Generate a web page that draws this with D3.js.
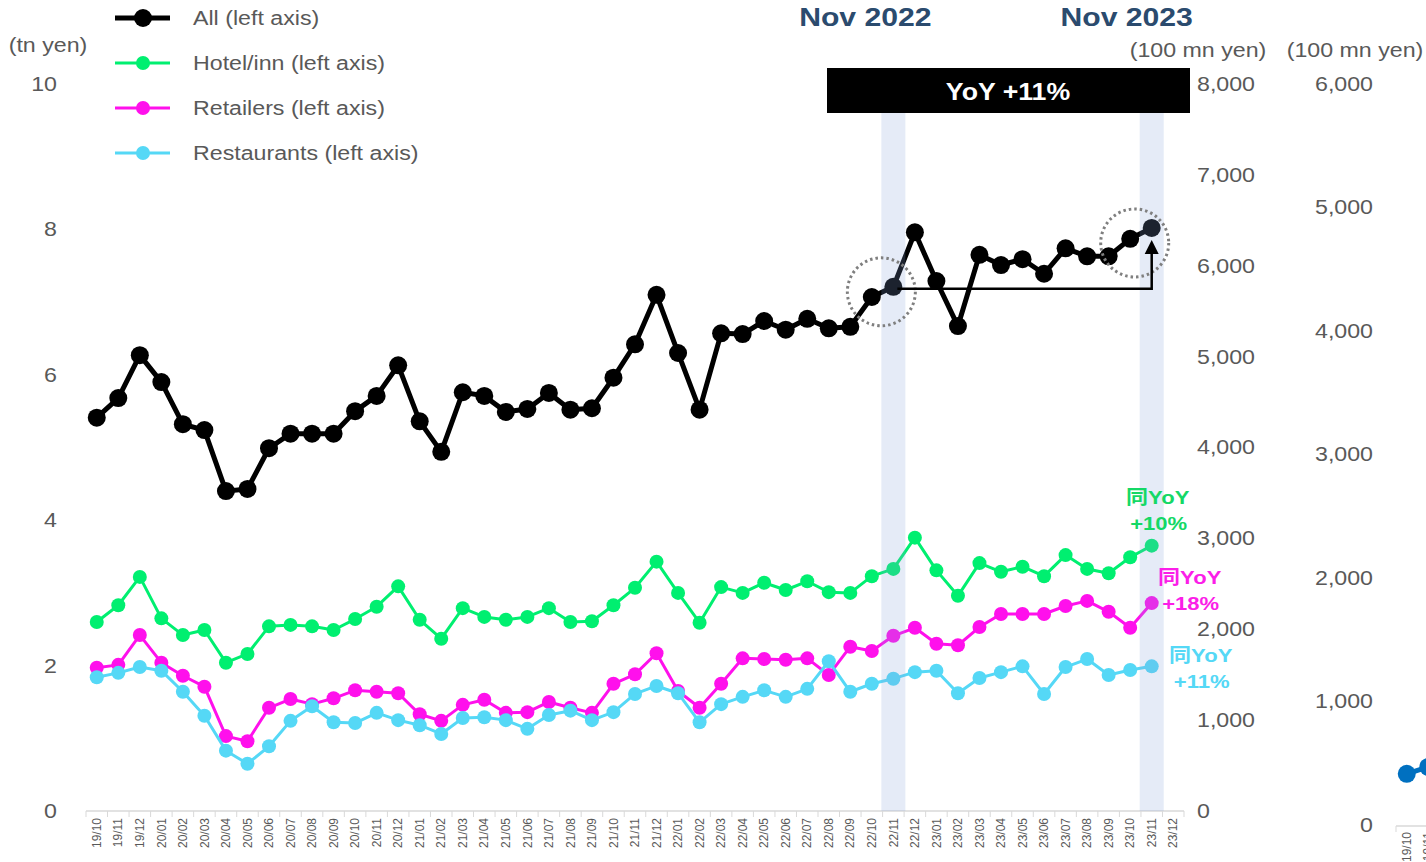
<!DOCTYPE html>
<html>
<head>
<meta charset="utf-8">
<script src="https://cdn.jsdelivr.net/npm/d3@7"></script>
<style>
    body { margin: 0; background: #fff; }
    svg { display: block; font-family: 'Liberation Sans', Arial, 'Noto Sans CJK JP', sans-serif; }
</style>
</head>
<body>
<svg id="chart" width="1426" height="862"></svg>
<script>
const months = [
    '19/10', '19/11', '19/12',
    '20/01', '20/02', '20/03', '20/04', '20/05', '20/06', '20/07', '20/08', '20/09', '20/10', '20/11', '20/12',
    '21/01', '21/02', '21/03', '21/04', '21/05', '21/06', '21/07', '21/08', '21/09', '21/10', '21/11', '21/12',
    '22/01', '22/02', '22/03', '22/04', '22/05', '22/06', '22/07', '22/08', '22/09', '22/10', '22/11', '22/12',
    '23/01', '23/02', '23/03', '23/04', '23/05', '23/06', '23/07', '23/08', '23/09', '23/10', '23/11', '23/12'
];

// tn yen, 19/10 .. 23/11 (23/12 not out yet)
const allValues = [
    5.41, 5.68, 6.27,
    5.90, 5.32, 5.24, 4.40, 4.43, 4.99, 5.19, 5.19, 5.19, 5.50, 5.71, 6.13,
    5.36, 4.94, 5.76, 5.71, 5.49, 5.53, 5.75, 5.52, 5.54, 5.96, 6.42, 7.10,
    6.30, 5.52, 6.57, 6.56, 6.74, 6.62, 6.77, 6.64, 6.66, 7.07, 7.21, 7.96,
    7.29, 6.67, 7.65, 7.51, 7.59, 7.39, 7.74, 7.63, 7.63, 7.87, 8.02
];
const hotelValues = [
    2.60, 2.83, 3.22,
    2.65, 2.42, 2.49, 2.04, 2.16, 2.54, 2.56, 2.54, 2.49, 2.64, 2.81, 3.09,
    2.63, 2.37, 2.79, 2.67, 2.63, 2.67, 2.79, 2.60, 2.61, 2.83, 3.07, 3.43,
    3.00, 2.59, 3.08, 3.00, 3.14, 3.04, 3.16, 3.01, 3.00, 3.23, 3.33, 3.76,
    3.31, 2.96, 3.41, 3.29, 3.36, 3.23, 3.52, 3.33, 3.27, 3.49, 3.65
];
const retailValues = [
    1.97, 2.01, 2.42,
    2.04, 1.86, 1.71, 1.03, 0.96, 1.42, 1.54, 1.47, 1.55, 1.66, 1.64, 1.62,
    1.33, 1.24, 1.46, 1.53, 1.35, 1.36, 1.50, 1.42, 1.35, 1.75, 1.88, 2.17,
    1.65, 1.42, 1.75, 2.10, 2.09, 2.08, 2.10, 1.87, 2.26, 2.20, 2.41, 2.52,
    2.30, 2.28, 2.53, 2.71, 2.71, 2.71, 2.82, 2.89, 2.74, 2.52, 2.86
];
const restaurantValues = [
    1.84, 1.90, 1.98,
    1.93, 1.64, 1.31, 0.83, 0.65, 0.89, 1.24, 1.44, 1.22, 1.21, 1.35, 1.25,
    1.18, 1.06, 1.28, 1.29, 1.25, 1.13, 1.32, 1.38, 1.25, 1.36, 1.61, 1.72,
    1.62, 1.22, 1.47, 1.57, 1.66, 1.57, 1.68, 2.06, 1.64, 1.75, 1.82, 1.91,
    1.93, 1.62, 1.83, 1.91, 1.99, 1.61, 1.98, 2.09, 1.87, 1.94, 1.99
];

const seriesNames = ['All (left axis)', 'Hotel/inn (left axis)', 'Retailers (left axis)', 'Restaurants (left axis)'];
const yoyLabels = [null, '+10%', '+18%', '+11%'];

const leftTicks = [0, 2, 4, 6, 8, 10];
const rightTicks = [0, 1000, 2000, 3000, 4000, 5000, 6000, 7000, 8000];
const farTicks = [0, 1000, 2000, 3000, 4000, 5000, 6000];

// the next chart, cut off at the right edge
const miniMonths = ['19/10', '19/11'];
const miniValues = [414, 470];

const highlightMonths = ['22/11', '23/11'];

/* ===== Config ===== */
const W = 1426, H = 862;
const stretch = 1.16; // text in the picture is a bit wide
const grey = '#595959';

const svg = d3.select('#chart');

const x = d3.scaleBand().domain(months).range([86, 1184]);
const yLeft = d3.scaleLinear().domain([0, 10]).range([811, 84]);
const yRight = d3.scaleLinear().domain([0, 8000]).range([811, 84]);
const yFar = d3.scaleLinear().domain([0, 6000]).range([825, 84]);
const cx = m => x(m) + x.bandwidth() / 2;

const series = [
    { name: seriesNames[0], values: allValues, color: '#000000', width: 5, r: 9, label: null },
    { name: seriesNames[1], values: hotelValues, color: '#00ef70', width: 3, r: 7, label: '#14d866' },
    { name: seriesNames[2], values: retailValues, color: '#ff10ec', width: 3, r: 7, label: '#fb1ee8' },
    { name: seriesNames[3], values: restaurantValues, color: '#55d8f6', width: 3, r: 7, label: '#55d8f6' }
];

function wide(sel) {
    return sel.attr('transform', function() {
        const t = d3.select(this).attr('data-at') || '';
        return `${t} scale(${stretch},1)`;
    });
}

/* ===== Axes ===== */
function styleAxis(g) {
    g.attr('font-family', null).attr('font-size', 20);
    g.select('.domain').remove();
    g.selectAll('text').attr('fill', grey).call(wide);
}

svg.append('g')
    .attr('transform', 'translate(57,0)')
    .call(d3.axisLeft(yLeft).tickValues(leftTicks).tickSize(0).tickPadding(0))
    .call(styleAxis);

svg.append('g')
    .attr('transform', 'translate(1197,0)')
    .call(d3.axisRight(yRight).tickValues(rightTicks).tickSize(0).tickPadding(0).tickFormat(d3.format(',')))
    .call(styleAxis);

svg.append('g')
    .attr('transform', 'translate(1373,0)')
    .call(d3.axisLeft(yFar).tickValues(farTicks).tickSize(0).tickPadding(0).tickFormat(d3.format(',')))
    .call(styleAxis);

svg.append('text').attr('data-at', 'translate(48,52)').attr('text-anchor', 'middle')
    .attr('font-size', 20).attr('fill', grey).text('(tn yen)').call(wide);
svg.append('text').attr('data-at', 'translate(1198,57)').attr('text-anchor', 'middle')
    .attr('font-size', 20).attr('fill', grey).text('(100 mn yen)').call(wide);
svg.append('text').attr('data-at', 'translate(1355,57)').attr('text-anchor', 'middle')
    .attr('font-size', 20).attr('fill', grey).text('(100 mn yen)').call(wide);

// bottom category axis
const x0 = x.range()[0], x1 = x.range()[1];
svg.append('line')
    .attr('x1', x0).attr('x2', x1).attr('y1', 811).attr('y2', 811)
    .attr('stroke', '#d9d9d9').attr('stroke-width', 1.5);
svg.append('g').selectAll('line')
    .data(d3.range(months.length + 1))
    .enter().append('line')
    .attr('x1', i => x0 + i * x.step()).attr('x2', i => x0 + i * x.step())
    .attr('y1', 811).attr('y2', 817)
    .attr('stroke', '#d9d9d9').attr('stroke-width', 1);
svg.append('g').selectAll('text')
    .data(months)
    .enter().append('text')
    .attr('transform', d => `translate(${cx(d)},818) rotate(-90)`)
    .attr('text-anchor', 'end')
    .attr('dy', '0.35em')
    .attr('font-size', 12)
    .attr('fill', grey)
    .text(d => d);

/* ===== Lines ===== */
const line = d3.line()
    .x((d, i) => cx(months[i]))
    .y(d => yLeft(d));

series.forEach(s => {
    const g = svg.append('g');
    g.append('path')
        .datum(s.values)
        .attr('d', line)
        .attr('fill', 'none')
        .attr('stroke', s.color)
        .attr('stroke-width', s.width)
        .attr('stroke-linejoin', 'round');
    g.selectAll('circle')
        .data(s.values)
        .enter().append('circle')
        .attr('cx', (d, i) => cx(months[i]))
        .attr('cy', d => yLeft(d))
        .attr('r', s.r)
        .attr('fill', s.color);
});

// highlight bands lie over the points (that is why they look tinted)
svg.append('g').selectAll('rect')
    .data(highlightMonths)
    .enter().append('rect')
    .attr('x', d => cx(d) - 12)
    .attr('y', 113)
    .attr('width', 24)
    .attr('height', yLeft(0) - 113)
    .attr('fill', 'rgb(133,162,218)')
    .attr('fill-opacity', 0.21);

/* ===== Legend ===== */
const legend = svg.append('g').selectAll('g')
    .data(series)
    .enter().append('g')
    .attr('transform', (d, i) => `translate(0,${18 + i * 45})`);
legend.append('line')
    .attr('x1', 115).attr('x2', 170)
    .attr('stroke', d => d.color)
    .attr('stroke-width', d => d.width);
legend.append('circle')
    .attr('cx', 143)
    .attr('r', d => d.r)
    .attr('fill', d => d.color);
legend.append('text')
    .attr('data-at', 'translate(193,0)')
    .attr('dy', '0.35em')
    .attr('font-size', 20)
    .attr('fill', grey)
    .text(d => d.name)
    .call(wide);

/* ===== Annotations ===== */
const iFrom = months.indexOf(highlightMonths[0]);
const iTo = months.indexOf(highlightMonths[1]);
const xFrom = cx(highlightMonths[0]), xTo = cx(highlightMonths[1]);
const yFrom = yLeft(allValues[iFrom]), yTo = yLeft(allValues[iTo]);

svg.append('text').attr('data-at', `translate(${xFrom - 28},26)`).attr('text-anchor', 'middle')
    .attr('font-size', 26).attr('font-weight', 'bold').attr('fill', '#2b4b6e')
    .text('Nov 2022').call(wide);
svg.append('text').attr('data-at', `translate(${xTo - 25},26)`).attr('text-anchor', 'middle')
    .attr('font-size', 26).attr('font-weight', 'bold').attr('fill', '#2b4b6e')
    .text('Nov 2023').call(wide);

svg.append('rect')
    .attr('x', 827).attr('y', 68)
    .attr('width', 363).attr('height', 45)
    .attr('fill', '#000');
svg.append('text').attr('data-at', 'translate(1008,92)').attr('text-anchor', 'middle')
    .attr('dy', '0.35em')
    .attr('font-size', 23).attr('font-weight', 'bold').attr('fill', '#fff')
    .text('YoY +11%').call(wide);

// dotted rings around the two compared months
svg.append('circle')
    .attr('cx', xFrom - 12).attr('cy', yFrom + 5).attr('r', 34)
    .attr('fill', 'none').attr('stroke', '#7f7f7f')
    .attr('stroke-width', 3).attr('stroke-dasharray', '2.5 3');
svg.append('circle')
    .attr('cx', xTo - 17).attr('cy', yTo + 15).attr('r', 34)
    .attr('fill', 'none').attr('stroke', '#7f7f7f')
    .attr('stroke-width', 3).attr('stroke-dasharray', '2.5 3');

// elbow arrow from Nov 2022 up to Nov 2023
const tipY = yTo + 12;
svg.append('path')
    .attr('d', `M${xFrom + 4},${yFrom + 2} H${xTo} V${tipY + 10}`)
    .attr('fill', 'none').attr('stroke', '#000').attr('stroke-width', 2.5);
svg.append('path')
    .attr('d', `M${xTo},${tipY} L${xTo - 7},${tipY + 14} L${xTo + 7},${tipY + 14} Z`)
    .attr('fill', '#000');

// YoY labels at the right end of each coloured line
const labelOffsets = [null, { dx: 6, dy: -22 }, { dx: 38, dy: 0 }, { dx: 49, dy: 15 }];
series.forEach((s, i) => {
    if (!yoyLabels[i]) return;
    const px = xTo + labelOffsets[i].dx;
    const py = yLeft(s.values[iTo]) + labelOffsets[i].dy;
    const t = svg.append('g').attr('font-size', 19).attr('font-weight', 'bold').attr('fill', s.label);
    t.append('text').attr('data-at', `translate(${px},${py - 26})`).attr('text-anchor', 'middle')
        .attr('dy', '0.35em').text('同YoY').call(wide);
    t.append('text').attr('data-at', `translate(${px + 1},${py})`).attr('text-anchor', 'middle')
        .attr('dy', '0.35em').text(yoyLabels[i]).call(wide);
});

/* ===== Next chart, cut off at the edge ===== */
const xMini = d3.scaleBand().domain(miniMonths).range([1396, 1396 + 2 * x.step()]);
const cxMini = m => xMini(m) + xMini.bandwidth() / 2;
svg.append('line')
    .attr('x1', 1396).attr('x2', W).attr('y1', 826).attr('y2', 826)
    .attr('stroke', '#d9d9d9').attr('stroke-width', 1.5);
svg.append('line')
    .attr('x1', 1396).attr('x2', 1396).attr('y1', 826).attr('y2', 832)
    .attr('stroke', '#d9d9d9');
svg.append('g').selectAll('text')
    .data(miniMonths)
    .enter().append('text')
    .attr('transform', d => `translate(${cxMini(d)},832) rotate(-90)`)
    .attr('text-anchor', 'end')
    .attr('dy', '0.35em')
    .attr('font-size', 12)
    .attr('fill', grey)
    .text(d => d);
svg.append('path')
    .datum(miniValues)
    .attr('d', d3.line().x((d, i) => cxMini(miniMonths[i])).y(d => yFar(d)))
    .attr('fill', 'none').attr('stroke', '#0070c0').attr('stroke-width', 5);
svg.append('g').selectAll('circle')
    .data(miniValues)
    .enter().append('circle')
    .attr('cx', (d, i) => cxMini(miniMonths[i]))
    .attr('cy', d => yFar(d))
    .attr('r', 9)
    .attr('fill', '#0070c0');
</script>
</body>
</html>
